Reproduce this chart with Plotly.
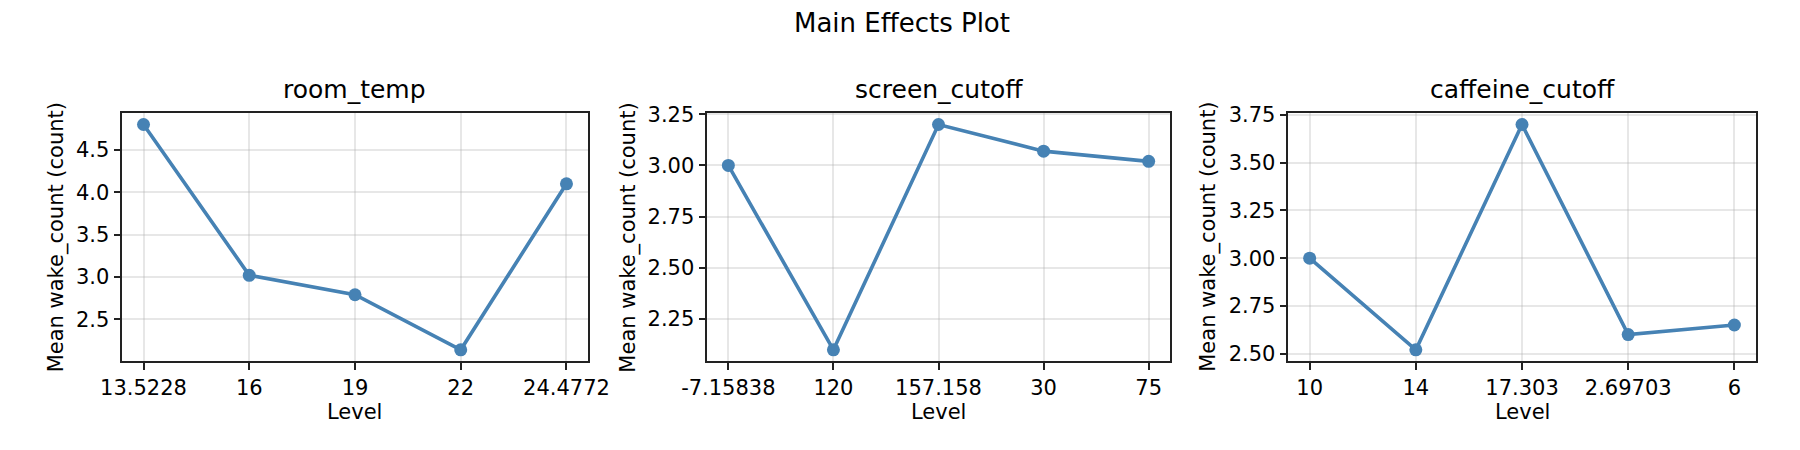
import plotly.graph_objects as go

# level means per factor
factors = ["room_temp", "screen_cutoff", "caffeine_cutoff"]

room_temp_levels = ["13.5228", "16", "19", "22", "24.4772"]
room_temp_means = [4.80, 3.02, 2.79, 2.14, 4.10]

screen_cutoff_levels = ["-7.15838", "120", "157.158", "30", "75"]
screen_cutoff_means = [3.00, 2.10, 3.20, 3.07, 3.02]

caffeine_cutoff_levels = ["10", "14", "17.303", "2.69703", "6"]
caffeine_cutoff_means = [3.00, 2.52, 3.70, 2.60, 2.65]

W, H = 1800, 450
FONT = "DejaVu Sans"
LINE = "steelblue"

panels = [
    (room_temp_levels, room_temp_means, 0.5, ".1f", (99, 577)),
    (screen_cutoff_levels, screen_cutoff_means, 0.25, ".2f", (700, 1175)),
    (caffeine_cutoff_levels, caffeine_cutoff_means, 0.25, ".2f", (1297, 1777)),
]
ylab_x = [31, 619, 1215]
ax_top, ax_bot = 106, 363

fig = go.Figure()
annotations = []

for i, (levels, means, step, fmt, (x0, x1)) in enumerate(panels):
    n = "" if i == 0 else str(i + 1)
    fig.add_trace(go.Scatter(
        x=levels, y=means, mode="lines+markers",
        line=dict(color=LINE, width=3.6),
        marker=dict(color=LINE, size=13),
        xaxis="x" + n, yaxis="y" + n, showlegend=False,
    ))
    lo, hi = min(means), max(means)
    pad = (hi - lo) * 0.05
    common = dict(
        showline=True, linecolor="#222", linewidth=1.6, mirror=True,
        ticks="outside", ticklen=7, tickwidth=1.6, tickcolor="#222",
        showgrid=True, gridcolor="rgba(176,176,176,0.3)", gridwidth=1.5,
        zeroline=False, tickfont=dict(family=FONT, size=21, color="#000"),
    )
    fig.update_layout(**{
        "xaxis" + n: dict(
            domain=[x0 / W, x1 / W], anchor="y" + n, type="category",
            range=[-0.2, len(levels) - 0.8], **common,
        ),
        "yaxis" + n: dict(
            domain=[1 - ax_bot / H, 1 - ax_top / H], anchor="x" + n,
            range=[lo - pad, hi + pad], dtick=step, tickformat=fmt, **common,
        ),
    })
    cx = (x0 + x1) / 2 / W
    annotations.append(dict(
        text=factors[i], x=cx, y=1 - 98 / H, xref="paper", yref="paper",
        xanchor="center", yanchor="bottom", showarrow=False,
        font=dict(family=FONT, size=25, color="#000"),
    ))
    annotations.append(dict(
        text="Level", x=cx, y=1 - 430 / H, xref="paper", yref="paper",
        xanchor="center", yanchor="bottom", showarrow=False,
        font=dict(family=FONT, size=21, color="#000"),
    ))
    annotations.append(dict(
        text="Mean wake_count (count)", x=ylab_x[i] / W,
        y=1 - (ax_top + ax_bot) / 2 / H, xref="paper", yref="paper",
        xanchor="center", yanchor="middle", textangle=-90, showarrow=False,
        font=dict(family=FONT, size=21, color="#000"),
    ))

annotations.append(dict(
    text="Main Effects Plot", x=0.5, y=1 - 30 / H, xref="paper", yref="paper",
    xanchor="center", yanchor="bottom", showarrow=False,
    font=dict(family=FONT, size=26, color="#000"),
))

fig.update_layout(
    width=W, height=H,
    margin=dict(l=0, r=0, t=0, b=0),
    paper_bgcolor="white", plot_bgcolor="white",
    annotations=annotations,
)

# drop the default page margin so the figure sits at the window corner
fig.write_html("out.html", config={"displayModeBar": False},
               post_script="document.body.style.margin='0';document.body.style.overflow='hidden';")
